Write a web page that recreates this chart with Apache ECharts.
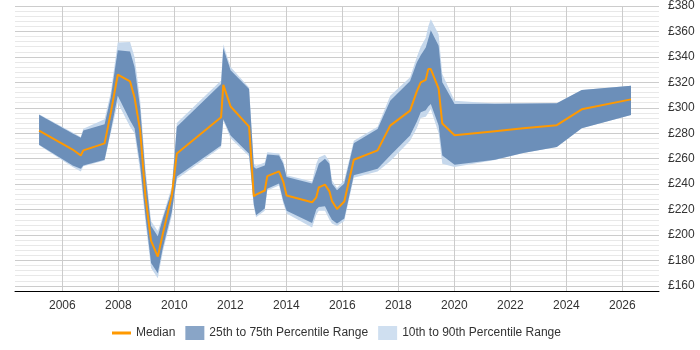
<!DOCTYPE html>
<html>
<head>
<meta charset="utf-8">
<script src="https://cdn.jsdelivr.net/npm/echarts@6/dist/echarts.min.js"></script>
<style>
    html, body { margin: 0; padding: 0; background: #fff; }
    #chart { width: 700px; height: 350px; }
</style>
</head>
<body>
<div id="chart"></div>
<script>
'use strict';

// x positions (decimal years)
const arrYear = [2005.17, 2006.37, 2006.66, 2006.75, 2007.51, 2007.73, 2007.98, 2008.42, 2008.58, 2008.78,
    2008.97, 2009.17, 2009.41, 2009.59, 2009.91, 2010.09, 2011.67, 2011.75, 2012.01, 2012.67,
    2012.84, 2012.92, 2013.23, 2013.32, 2013.74, 2013.89, 2014.01, 2014.92, 2015.07, 2015.16,
    2015.38, 2015.54, 2015.63, 2015.81, 2016.07, 2016.41, 2017.26, 2017.71, 2018.42, 2018.66,
    2018.80, 2018.98, 2019.07, 2019.16, 2019.44, 2019.57, 2020.01, 2021.45, 2022.46, 2023.66,
    2024.55, 2026.31];

const arrMedian = [282, 267.2, 262.5, 266.5, 272, 296, 326, 320.7, 308, 282,
    230, 195.4, 183, 201, 231, 264, 292.5, 318, 301, 285.2,
    230.4, 231.8, 235, 246.3, 250, 242, 231, 225.7, 229.6, 237.5,
    239.6, 234.3, 226.8, 220.5, 226.3, 259.2, 266.5, 286, 297.8, 312.9,
    320, 322, 330.4, 330.4, 315, 287.6, 278.4, 281.6, 283.9, 286.3,
    298.8, 306.6];

const arrQ1 = [271, 254.6, 252, 254.7, 259.2, 282, 309.5, 290, 284, 255,
    215, 178, 170, 190, 218, 246, 270.4, 291, 278.2, 263.9,
    224, 215.6, 220.8, 236.4, 240.4, 227, 219, 209.5, 220, 222,
    222.6, 215.6, 212, 209.1, 213, 246.9, 252.1, 262.5, 278.2, 289,
    296.4, 298, 301, 303, 286, 262.5, 255.2, 259.2, 264.4, 269.1,
    283.9, 294.4];

const arrQ3 = [294.5, 279.8, 276.4, 282.1, 287, 308, 345.3, 344.2, 332, 300,
    247, 207, 199, 213, 235, 285, 318.7, 347, 329.5, 314.8,
    253.4, 252, 254.7, 263.3, 262.5, 256, 245.6, 240.4, 250, 256,
    260, 256, 240.4, 235.1, 240.4, 272.2, 283.4, 305.6, 321, 335.6,
    341.3, 347.4, 354, 361, 348.7, 320, 303, 303.2, 303.3, 303.5,
    314, 317.4];

const arrP10 = [270.5, 253.5, 250, 254, 258.5, 280, 304, 285, 280, 250,
    210, 174, 166, 187, 215, 244, 269, 290, 276, 262,
    222, 214, 219, 235, 239, 225, 217, 206, 216, 219,
    219, 212, 209, 207, 211, 245, 250, 258, 274, 284,
    292, 293, 296, 299, 280, 256, 253.4, 259, 264.4, 269.1,
    283.9, 294.4];

const arrP90 = [295, 280.5, 277, 283.5, 291, 312, 351.3, 351.8, 340, 306,
    252, 211, 203, 215, 238, 288, 321.5, 350, 332, 316,
    256, 254.5, 257, 265, 264, 258, 247, 242, 256, 261,
    263, 258, 243, 237, 243, 274, 285, 309.5, 324, 340,
    348, 355, 364, 369.6, 357.8, 326.5, 305.5, 303.3, 303.3, 303.5,
    314, 317.4];

const arrTickYear = [2006, 2008, 2010, 2012, 2014, 2016, 2018, 2020, 2022, 2024, 2026];

const strMedian = 'Median';
const strInner = '25th to 75th Percentile Range';
const strOuter = '10th to 90th Percentile Range';

const echartsMain = echarts.init(document.getElementById('chart'), null, { renderer: 'canvas' });

// band drawn as one polygon through the axis scales
const makeBand = (strName, arrLo, arrHi, strColor) => {
    return {
        name: strName,
        type: 'custom',
        itemStyle: { color: strColor },
        encode: { x: 0, y: [1, 2] },
        data: arrYear.map((x, i) => [x, arrLo[i], arrHi[i]]),
        renderItem: (params, api) => {
            if (params.dataIndex !== 0) return null;
            const arrPt = [];
            arrYear.forEach((x, i) => arrPt.push(api.coord([x, arrHi[i]])));
            for (let i = arrYear.length - 1; i >= 0; i--) {
                arrPt.push(api.coord([arrYear[i], arrLo[i]]));
            }
            return {
                type: 'polygon',
                shape: { points: arrPt },
                style: { fill: strColor }
            };
        }
    };
};

const option = {
    animation: false,
    textStyle: { fontFamily: 'Liberation Sans, Arial, sans-serif' },
    grid: {
        left: 15,
        right: 41,
        top: 6,
        bottom: 59
    },
    legend: {
        top: 321,
        left: 107,
        itemWidth: 19,
        itemHeight: 14,
        itemGap: 10,
        textStyle: { fontSize: 12, color: '#333' },
        data: [
            { name: strMedian, icon: 'path://M0,0 H19 V3 H0 Z', itemStyle: { color: '#ff9900' } },
            { name: strInner, icon: 'rect', itemStyle: { color: '#89a5c7' } },
            { name: strOuter, icon: 'rect', itemStyle: { color: '#cfdff0' } }
        ]
    },
    xAxis: {
        type: 'value',
        min: 2004.31,
        max: 2027.31,
        axisLine: { show: true, onZero: false, lineStyle: { color: '#000', width: 1 } },
        axisTick: { show: false, customValues: arrTickYear },
        axisLabel: {
            customValues: arrTickYear,
            color: '#333',
            fontSize: 12,
            margin: 9,
            formatter: v => String(Math.round(v))
        },
        splitLine: { show: true, lineStyle: { color: '#ccc', width: 1 } }
    },
    yAxis: {
        type: 'value',
        position: 'right',
        min: 156,
        max: 380,
        interval: 4,
        axisLine: { show: false },
        axisTick: { show: false },
        axisLabel: {
            color: '#333',
            fontSize: 12,
            margin: 9,
            formatter: v => (v % 20 === 0 ? '£' + v : '')
        },
        splitLine: {
            show: true,
            lineStyle: { color: ['#e8e8e8', '#cccccc', '#e8e8e8', '#e8e8e8', '#e8e8e8'], width: 1 }
        }
    },
    series: [
        makeBand(strOuter, arrP10, arrP90, '#c6d8ec'),
        makeBand(strInner, arrQ1, arrQ3, '#6c8fb9'),
        {
            name: strMedian,
            type: 'line',
            symbol: 'none',
            itemStyle: { color: '#ff9900' },
            lineStyle: { color: '#ff9900', width: 2 },
            data: arrYear.map((x, i) => [x, arrMedian[i]])
        }
    ]
};

echartsMain.setOption(option);
</script>
</body>
</html>
